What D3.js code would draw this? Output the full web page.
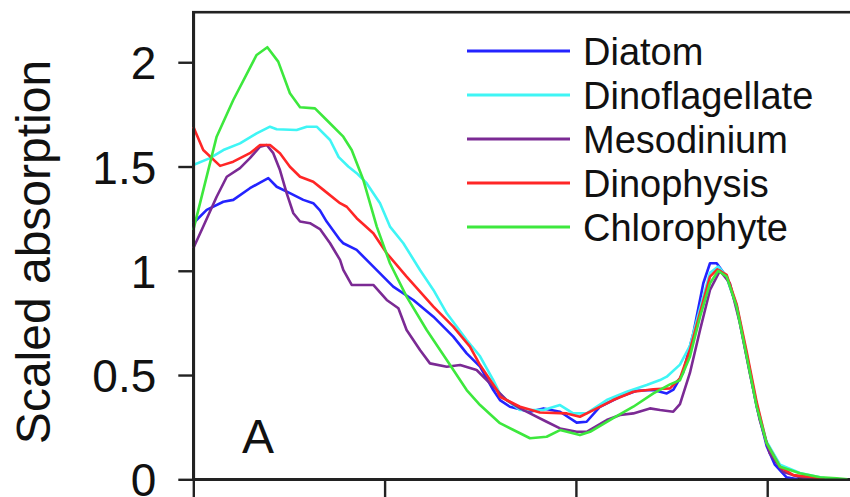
<!DOCTYPE html>
<html>
<head>
<meta charset="utf-8">
<script src="https://cdn.jsdelivr.net/npm/d3@7/dist/d3.min.js"></script>
<style>
  html, body { margin: 0; padding: 0; background: #fff; }
  svg { display: block; font-family: "Liberation Sans", Arial, sans-serif; }
</style>
</head>
<body>
<svg id="chart" width="850" height="497"></svg>
<script>
// Absorption spectra, scaled to 1 at the red chlorophyll peak: [wavelength nm, value]
const diatom = [
  [400,1.228],[407,1.292],[415.7,1.331],[420.9,1.34],[429.6,1.396],[434.9,1.423],[439.2,1.444],
  [443.6,1.403],[450.5,1.372],[457.5,1.34],[462.7,1.324],[466.2,1.29],[469.7,1.236],[476.7,1.148],
  [478.4,1.132],[485.4,1.1],[494.1,1.02],[504.5,0.924],[515,0.86],[525.5,0.78],[535.9,0.684],
  [542.9,0.604],[549.9,0.54],[556.8,0.428],[560.3,0.38],[565.5,0.348],[576,0.324],[583,0.34],
  [591.7,0.324],[600.4,0.272],[605.6,0.276],[612.6,0.348],[623.1,0.396],[631.8,0.425],[640.5,0.428],
  [647.5,0.412],[651,0.43],[656,0.51],[661.4,0.7],[666.6,0.94],[670.1,1.036],[673.6,1.036],
  [678.8,0.97],[684,0.83],[689.3,0.59],[694.5,0.35],[699.7,0.16],[704,0.07],[710,0.01],[716,0]
];
const dinoflagellate = [
  [400,1.507],[408.7,1.54],[415.7,1.579],[424.4,1.611],[433.1,1.659],[440.1,1.691],[443.6,1.679],
  [454,1.675],[459.3,1.691],[464.5,1.691],[471.5,1.627],[476,1.545],[481,1.5],[485.4,1.468],
  [490.6,1.42],[497.6,1.324],[502.8,1.212],[509.8,1.132],[518.5,1.004],[525.5,0.908],[532.5,0.796],
  [542.9,0.668],[549.9,0.59],[556.8,0.476],[560.3,0.41],[563.8,0.38],[570.8,0.332],[583,0.332],
  [591.7,0.356],[598.6,0.316],[605.6,0.316],[616.1,0.38],[626.6,0.42],[637,0.452],[644,0.476],
  [647.5,0.492],[654.4,0.55],[659.6,0.64],[664.9,0.82],[670.1,0.99],[674.4,1.02],[678.8,0.975],
  [684,0.835],[689.3,0.6],[694.5,0.36],[699.7,0.18],[706.7,0.07],[717.1,0.03],[727.6,0.01],[733,0]
];
const mesodinium = [
  [400,1.108],[405.2,1.212],[412.2,1.355],[417.5,1.451],[424.4,1.492],[429.6,1.54],[434.9,1.595],
  [438.4,1.603],[441.8,1.564],[445.3,1.483],[448.8,1.372],[452.3,1.276],[455.8,1.236],[461,1.228],
  [466.2,1.2],[471.5,1.132],[476.7,1.052],[478.4,1.004],[482.8,0.932],[494.1,0.932],[501.1,0.86],
  [507.2,0.82],[511.5,0.716],[518.5,0.62],[523.7,0.556],[532.5,0.54],[539.5,0.548],[548.1,0.524],
  [555.1,0.46],[563.8,0.38],[570.8,0.34],[576,0.316],[584.7,0.276],[591.7,0.244],[600.4,0.228],
  [605.6,0.228],[616.1,0.284],[623.1,0.308],[630,0.316],[638.7,0.34],[644,0.332],[650.9,0.324],
  [654.4,0.36],[659.6,0.51],[664.9,0.716],[670.1,0.908],[675.3,1.0],[680.5,0.94],[685.7,0.75],
  [690.9,0.51],[696.1,0.285],[701.3,0.125],[708.3,0.036],[717,0.01],[725,0]
];
const dinophysis = [
  [400,1.691],[405.2,1.579],[414,1.503],[420.9,1.523],[429.6,1.564],[434.9,1.603],[440.1,1.603],
  [445.3,1.564],[450.5,1.499],[455.8,1.451],[462.7,1.427],[468,1.388],[476.7,1.324],[480.2,1.307],
  [485.4,1.252],[494.1,1.18],[501.1,1.084],[511.5,0.972],[525.5,0.828],[535.9,0.732],[544.6,0.636],
  [549.9,0.548],[558.6,0.43],[560.3,0.396],[570.8,0.348],[581.2,0.32],[595.2,0.316],[602.1,0.3],
  [609.1,0.332],[619.5,0.38],[630,0.42],[640.5,0.432],[649.2,0.436],[654.4,0.484],[659.6,0.62],
  [664.9,0.8],[670.1,0.972],[673.9,1.007],[678.8,0.98],[684,0.84],[689.3,0.61],[694.5,0.37],
  [699.7,0.173],[706.7,0.06],[713.6,0.02],[724,0.01],[730,0]
];
const chlorophyte = [
  [400,1.195],[412.2,1.643],[420.9,1.819],[433.1,2.035],[438.7,2.072],[444.4,2.003],[450.5,1.851],
  [455.8,1.784],[463.6,1.779],[469.7,1.723],[478.4,1.643],[482.8,1.579],[488.9,1.435],[495.9,1.212],
  [502.8,1.036],[511.5,0.876],[522,0.716],[532.5,0.572],[542.9,0.428],[549.9,0.356],[560.3,0.269],
  [570.8,0.221],[576,0.197],[584.7,0.204],[591.7,0.236],[602.1,0.212],[607.4,0.228],[619.5,0.293],
  [630,0.348],[640.5,0.412],[649.2,0.455],[654.4,0.475],[659.6,0.588],[664.9,0.78],[670.1,0.94],
  [674.4,1.0],[678.8,0.972],[684,0.828],[689.3,0.588],[694.5,0.348],[699.7,0.173],[706.7,0.06],
  [717.1,0.029],[727.6,0.01],[736.3,0.005],[742,0]
];

const seriesNames = ["Diatom", "Dinoflagellate", "Mesodinium", "Dinophysis", "Chlorophyte"];
const seriesData = [diatom, dinoflagellate, mesodinium, dinophysis, chlorophyte];
const seriesColors = ["#2323ff", "#3ff5f5", "#7b2a94", "#ff2626", "#3de83d"];

const yTicks = [0, 0.5, 1, 1.5, 2];
const yTickLabels = ["0", "0.5", "1", "1.5", "2"];
const xTicks = [400, 500, 600, 700];
const yTitle = "Scaled absorption";
const panelLabel = "A";

const svg = d3.select("#chart");
const plotLeft = 193.3, plotTop = 12.2, plotBottom = 479.3;

const x = d3.scaleLinear().domain([400, 750]).range([plotLeft, plotLeft + 350 * 1.913]);
const y = d3.scaleLinear().domain([0, 2.24]).range([plotBottom, plotTop]);

// plot frame
svg.append("rect")
  .attr("x", plotLeft).attr("y", plotTop)
  .attr("width", x(750) - plotLeft).attr("height", plotBottom - plotTop)
  .attr("fill", "none").attr("stroke", "#222").attr("stroke-width", 2.6);

// spectra
const line = d3.line().x(d => x(d[0])).y(d => y(d[1]));
const plot = svg.append("g");
seriesData.forEach((s, i) => {
  plot.append("path")
    .datum(s)
    .attr("d", line)
    .attr("fill", "none")
    .attr("stroke", seriesColors[i])
    .attr("stroke-width", 2.6)
    .attr("stroke-linejoin", "round");
});

// y axis
const yAxis = svg.append("g")
  .attr("transform", `translate(${plotLeft},0)`)
  .call(d3.axisLeft(y).tickValues(yTicks)
    .tickFormat((d, i) => yTickLabels[i])
    .tickSize(15).tickSizeOuter(0).tickPadding(22));
yAxis.select(".domain").attr("stroke", "#222").attr("stroke-width", 2.6);
yAxis.selectAll(".tick line").attr("stroke", "#222").attr("stroke-width", 2.4);
yAxis.selectAll(".tick text")
  .attr("fill", "#111")
  .attr("font-family", "'Liberation Sans', Arial, sans-serif")
  .attr("font-size", 46)
  .attr("dy", "0.36em");

// x axis
const xAxis = svg.append("g")
  .attr("transform", `translate(0,${plotBottom})`)
  .call(d3.axisBottom(x).tickValues(xTicks).tickFormat(() => "")
    .tickSize(22).tickSizeOuter(0));
xAxis.select(".domain").attr("stroke", "#222").attr("stroke-width", 2.6);
xAxis.selectAll(".tick line").attr("stroke", "#222").attr("stroke-width", 2.4);

// axis title
svg.append("text")
  .attr("transform", "translate(50,252) rotate(-90)")
  .attr("text-anchor", "middle")
  .attr("font-size", 48)
  .attr("fill", "#111")
  .text(yTitle);

// panel label
svg.append("text")
  .attr("x", 242).attr("y", 453)
  .attr("font-size", 48)
  .attr("fill", "#111")
  .text(panelLabel);

// legend
const legend = svg.append("g");
seriesNames.forEach((name, i) => {
  const ly = 51 + i * 44;
  legend.append("line")
    .attr("x1", 467).attr("x2", 570)
    .attr("y1", ly).attr("y2", ly)
    .attr("stroke", seriesColors[i]).attr("stroke-width", 3);
  legend.append("text")
    .attr("x", 583).attr("y", ly + 14)
    .attr("font-size", 38)
    .attr("fill", "#111")
    .text(name);
});
</script>
</body>
</html>
